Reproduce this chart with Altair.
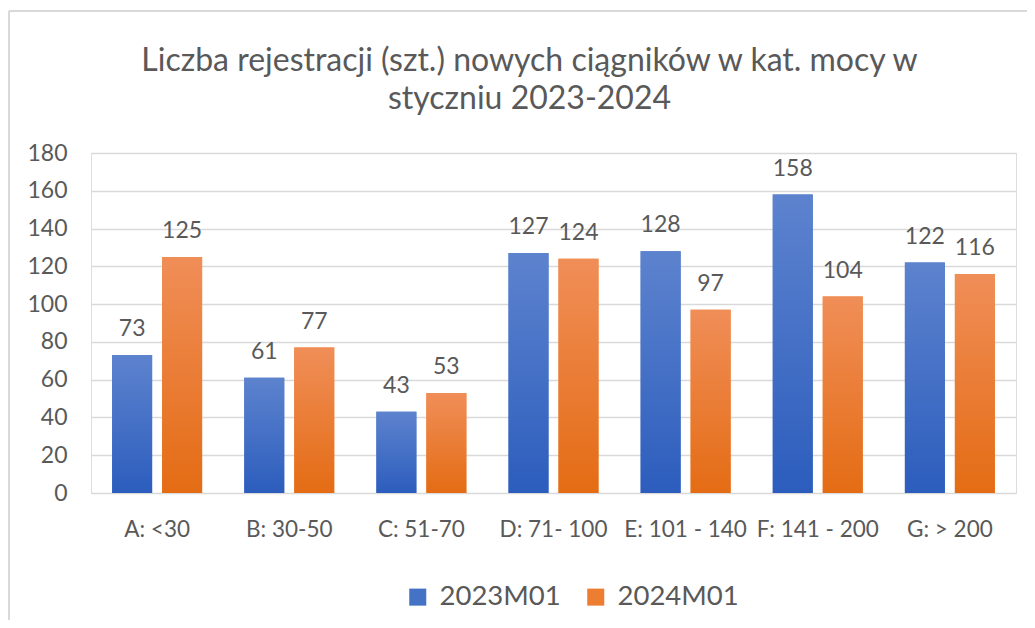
import altair as alt
import pandas as pd

categories = ["A: <30", "B: 30-50", "C: 51-70", "D: 71- 100", "E: 101 - 140", "F: 141 - 200", "G: > 200"]
series = ["2023M01", "2024M01"]
values_2023 = [73, 61, 43, 127, 128, 158, 122]
values_2024 = [125, 77, 53, 124, 97, 104, 116]

rows = []
for c, a, b in zip(categories, values_2023, values_2024):
    rows.append({"kat": c, "seria": series[0], "wartosc": a})
    rows.append({"kat": c, "seria": series[1], "wartosc": b})
df = pd.DataFrame(rows)

TXT = "#595959"
GRID = "#d9d9d9"
FONT = "Lato"

x_enc = alt.X("kat:N", sort=categories, title=None,
              scale=alt.Scale(paddingInner=0.319, paddingOuter=0.16),
              axis=alt.Axis(labelAngle=0, labelFontSize=22.5, labelColor=TXT, labelFont=FONT,
                            labelPadding=25, ticks=False, domain=False, grid=False))
xo_enc = alt.XOffset("seria:N", sort=series,
                     scale=alt.Scale(domain=series, paddingInner=0.2, paddingOuter=0))
y_enc = alt.Y("wartosc:Q", title=None,
              scale=alt.Scale(domain=[0, 180], nice=False),
              axis=alt.Axis(values=list(range(0, 181, 20)), labelFontSize=23, labelColor=TXT,
                            labelFont=FONT, labelPadding=24, ticks=False, domain=False,
                            grid=True, gridColor=GRID, gridWidth=1.6))

base = alt.Chart(df)

solid = base.mark_bar().encode(
    x=x_enc, xOffset=xo_enc, y=y_enc,
    color=alt.Color("seria:N", sort=series,
                    scale=alt.Scale(domain=series, range=["#4472C4", "#ED7D31"]),
                    legend=alt.Legend(title=None, orient="none", direction="horizontal",
                                      legendX=313, legendY=430, symbolType="square",
                                      symbolSize=290, symbolStrokeWidth=0,
                                      labelFontSize=27.5, labelColor=TXT, labelFont=FONT,
                                      labelOffset=8, columnPadding=21)),
)

grad_blue = alt.LinearGradient(gradient="linear", x1=0, y1=0, x2=0, y2=1,
                               stops=[alt.GradientStop(color="#5D83CE", offset=0),
                                      alt.GradientStop(color="#2C5DBD", offset=1)])
grad_orange = alt.LinearGradient(gradient="linear", x1=0, y1=0, x2=0, y2=1,
                                 stops=[alt.GradientStop(color="#F08E58", offset=0),
                                        alt.GradientStop(color="#E46C14", offset=1)])

blue = base.transform_filter(alt.datum.seria == series[0]).mark_bar(color=grad_blue).encode(
    x=x_enc, xOffset=xo_enc, y=y_enc)
orange = base.transform_filter(alt.datum.seria == series[1]).mark_bar(color=grad_orange).encode(
    x=x_enc, xOffset=xo_enc, y=y_enc)

labels = base.mark_text(fontSize=23, font=FONT, color=TXT, dy=-19, baseline="alphabetic").encode(
    x=x_enc, xOffset=xo_enc, y=y_enc, text=alt.Text("wartosc:Q"))

border_data = alt.Data(values=[{"k": 1}])
top_line = alt.Chart(border_data).mark_rule(color=GRID, strokeWidth=2).encode(
    x=alt.value(-82), x2=alt.value(960), y=alt.value(-142))
left_line = alt.Chart(border_data).mark_rule(color=GRID, strokeWidth=2).encode(
    x=alt.value(-82), y=alt.value(-142), y2=alt.value(480))

chart = alt.layer(top_line, left_line, solid, blue, orange, labels).properties(
    width=925, height=340,
    padding={"left": 83, "top": 145, "right": 11, "bottom": 127},
    autosize=alt.AutoSizeParams(type="none"),
    title=alt.TitleParams(
        text=["Liczba rejestracji (szt.) nowych ciągników w kat. mocy w", "styczniu 2023-2024"],
        fontSize=32, font=FONT, color=TXT, fontWeight="normal", lineHeight=38,
        anchor="middle", dx=-24, offset=20, dy=126),
).configure_view(stroke=None).configure(background="white")

chart.save("out.html", embed_options={"renderer": "svg", "actions": False})
